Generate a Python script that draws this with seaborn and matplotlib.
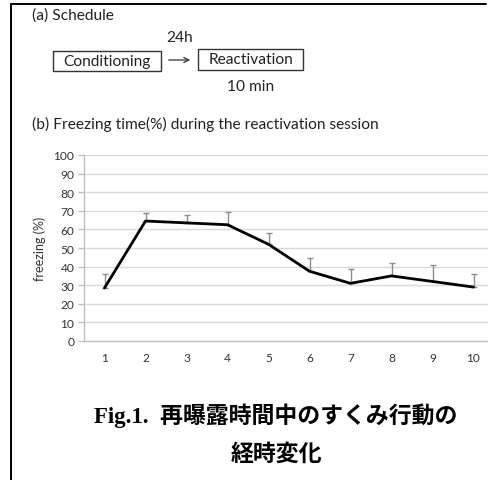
import numpy as np
import pandas as pd
import matplotlib
matplotlib.use("Agg")
import matplotlib.pyplot as plt
from matplotlib.patches import Rectangle, FancyArrowPatch
from matplotlib.lines import Line2D
import seaborn as sns

# Freezing during the 10-minute reactivation session (mean and upward SEM)
minutes = [1, 2, 3, 4, 5, 6, 7, 8, 9, 10]
freezing = [28.5, 64.5, 63.5, 62.5, 52.0, 37.5, 31.0, 35.0, 32.0, 29.0]
sem = [7.5, 4.5, 4.5, 7.0, 5.8, 7.2, 7.5, 7.0, 8.7, 7.0]
yticks = [0, 10, 20, 30, 40, 50, 60, 70, 80, 90, 100]

W, H = 489, 481
sns.set_theme(style="white")
plt.rcParams["font.family"] = ["Lato", "DejaVu Sans"]

fig = plt.figure(figsize=(W / 100, H / 100), dpi=100)
fig.patch.set_facecolor("white")


def fx(x):
    return x / W


def fy(y):
    return 1 - y / H


# frame lines at the top and left of the panel
fig.add_artist(Line2D([fx(11), fx(486)], [fy(5), fy(5)], color="black", lw=1.4,
                      transform=fig.transFigure))
fig.add_artist(Line2D([fx(11), fx(11)], [fy(5), fy(481)], color="black", lw=1.4,
                      transform=fig.transFigure))

# (a) schedule diagram
txt = dict(fontsize=11.2, color="#222222")
fig.text(fx(32), fy(16), "(a) Schedule", ha="left", va="center", **txt)
fig.add_artist(Rectangle((fx(53), fy(72)), fx(161 - 53), fy(52) - fy(72), fill=False,
                         ec="#333333", lw=1.0, transform=fig.transFigure))
fig.text(fx(107), fy(62), "Conditioning", ha="center", va="center", **txt)
fig.add_artist(Rectangle((fx(198), fy(71)), fx(303 - 198), fy(50) - fy(71), fill=False,
                         ec="#333333", lw=1.0, transform=fig.transFigure))
fig.text(fx(250.5), fy(60.5), "Reactivation", ha="center", va="center", **txt)
fig.text(fx(180), fy(38), "24h", ha="center", va="center", **txt)
fig.text(fx(251), fy(87), "10 min", ha="center", va="center", **txt)
fig.add_artist(FancyArrowPatch(
    (fx(166), fy(61)), (fx(193), fy(61)), transform=fig.transFigure,
    arrowstyle="->", mutation_scale=9, lw=0.9, color="#333333"))

# (b) title
fig.text(fx(32), fy(124), "(b) Freezing time(%) during the reactivation session",
         ha="left", va="center", **txt)

# line chart
ax = fig.add_axes([fx(84), fy(342), fx(494 - 84), fy(156) - fy(342)])
df = pd.DataFrame({"minute": minutes, "freezing": freezing})
ax.errorbar(minutes, freezing, yerr=[np.zeros(len(sem)), sem], fmt="none",
            ecolor="#8c8c8c", elinewidth=1.0, capsize=2.2, capthick=1.0, zorder=2)
sns.lineplot(data=df, x="minute", y="freezing", color="black", lw=2.0, ax=ax,
             zorder=3)

ax.set_xlim(0.5, 10.5)
ax.set_ylim(0, 100)
ax.set_yticks(yticks)
ax.set_xticks(minutes)
ax.set_xticks(np.arange(0.5, 11, 1), minor=True)
ax.set_xticklabels([str(m) for m in minutes])
ax.grid(axis="y", color="#d9d9d9", lw=1.0)
ax.grid(axis="x", visible=False)
ax.set_axisbelow(True)
for s in ("top", "right"):
    ax.spines[s].set_visible(False)
for s in ("left", "bottom"):
    ax.spines[s].set_color("#bfbfbf")
    ax.spines[s].set_linewidth(1.0)
ax.tick_params(axis="x", which="major", length=0, pad=8, labelsize=8.6,
               labelcolor="#333333")
ax.tick_params(axis="x", which="minor", length=4, width=1.0, color="#bfbfbf",
               direction="out")
ax.tick_params(axis="y", length=4, width=1.0, color="#bfbfbf", pad=3, labelsize=8.6,
               labelcolor="#333333", left=True)
ax.set_xlabel("")
ax.set_ylabel("freezing (%)", fontsize=9, color="#333333", labelpad=5)

# caption
cap = dict(family=["Liberation Serif", "Noto Sans CJK JP"], fontweight="bold",
           fontsize=16.5, color="black", ha="center", va="center")
fig.text(fx(276), fy(416), "Fig.1.  再曝露時間中のすくみ行動の", **cap)
fig.text(fx(276), fy(455), "経時変化", **cap)

fig.savefig("out.png", dpi=100, facecolor="white")
